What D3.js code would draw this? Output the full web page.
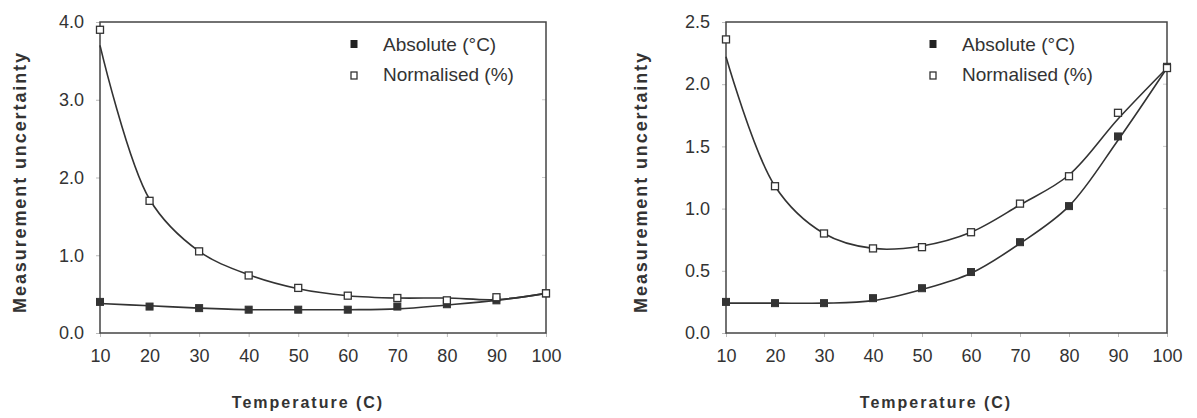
<!DOCTYPE html>
<html><head><meta charset="utf-8">
<script src="https://cdn.jsdelivr.net/npm/d3@7"></script>
<style>body{margin:0;background:#fff}svg{display:block}text{font-family:"Liberation Sans",Arial,sans-serif;fill:#333}</style>
</head><body><svg id="c" width="1197" height="418"></svg>
<script>
const temps = [10,20,30,40,50,60,70,80,90,100];
const xTicks = [10,20,30,40,50,60,70,80,90,100];
// Left chart
const leftAbs = [0.40,0.34,0.32,0.30,0.30,0.30,0.34,0.37,0.42,0.51];
const leftAbsFit = [0.38,0.35,0.32,0.30,0.30,0.30,0.31,0.36,0.42,0.51];
const leftNorm = [3.90,1.70,1.05,0.74,0.58,0.48,0.45,0.42,0.46,0.51];
const leftNormFit = [3.70,1.72,1.05,0.75,0.57,0.48,0.45,0.45,0.43,0.51];
const leftYTicks = [0,1,2,3,4];
// Right chart
const rightAbs = [0.25,0.24,0.24,0.28,0.36,0.49,0.73,1.02,1.58,2.14];
const rightAbsFit = [0.24,0.24,0.24,0.26,0.35,0.48,0.72,1.02,1.55,2.13];
const rightNorm = [2.36,1.18,0.80,0.68,0.69,0.81,1.04,1.26,1.77,2.13];
const rightNormFit = [2.22,1.18,0.80,0.68,0.70,0.81,1.03,1.27,1.72,2.13];
const rightYTicks = [0,0.5,1.0,1.5,2.0,2.5];
const legendLabels = ["Absolute (°C)","Normalised (%)"];

const svg = d3.select("#c");

function panel(cfg){
  const g = svg.append("g");
  const x = d3.scaleLinear().domain([10,100]).range([cfg.x0,cfg.x1]);
  const y = d3.scaleLinear().domain([0,cfg.ymax]).range([333,22]);
  // ticks outside
  const ya = d3.axisLeft(y).tickValues(cfg.yTicks).tickFormat(d3.format(".1f")).tickSize(4).tickPadding(12);
  const gy = g.append("g").attr("transform",`translate(${cfg.x0},0)`).call(ya);
  gy.select(".domain").remove();
  gy.selectAll("line").attr("stroke","#bbb");
  gy.selectAll("text").attr("font-size",18).attr("fill","#333").attr("font-family","Liberation Sans, Arial, sans-serif");
  const xa = d3.axisBottom(x).tickValues(xTicks).tickFormat(d3.format("d")).tickSize(4).tickPadding(12);
  const gx = g.append("g").attr("transform",`translate(0,333)`).call(xa);
  gx.select(".domain").remove();
  gx.selectAll("line").attr("stroke","#bbb");
  gx.selectAll("text").attr("font-size",18).attr("fill","#333").attr("font-family","Liberation Sans, Arial, sans-serif");
  // inner ticks on right edge
  g.selectAll(".rt").data(cfg.yTicks.slice(1,-1)).enter().append("line")
    .attr("x1",cfg.x1-4).attr("x2",cfg.x1).attr("y1",d=>y(d)).attr("y2",d=>y(d)).attr("stroke","#ccc");
  // frame
  g.append("rect").attr("x",cfg.x0).attr("y",22).attr("width",cfg.x1-cfg.x0).attr("height",311)
    .attr("fill","none").attr("stroke","#444").attr("stroke-width",1.5);
  const line = d3.line().x((d,i)=>x(temps[i])).y(d=>y(d)).curve(d3.curveCatmullRom.alpha(0.5));
  [cfg.absFit,cfg.normFit].forEach(arr=>{
    g.append("path").attr("d",line(arr)).attr("fill","none").attr("stroke","#333").attr("stroke-width",1.6);
  });
  // markers
  g.selectAll(".ma").data(cfg.abs).enter().append("rect")
    .attr("x",(d,i)=>x(temps[i])-3.5).attr("y",d=>y(d)-3.5).attr("width",7).attr("height",7)
    .attr("fill","#333").attr("stroke","#333");
  g.selectAll(".mn").data(cfg.norm).enter().append("rect")
    .attr("x",(d,i)=>x(temps[i])-3.5).attr("y",d=>y(d)-3.5).attr("width",7).attr("height",7)
    .attr("fill","#fff").attr("stroke","#333").attr("stroke-width",1.3);
  // legend
  const lx = cfg.legX;
  g.append("rect").attr("x",lx-3.5).attr("y",40).attr("width",7).attr("height",8).attr("fill","#222");
  g.append("rect").attr("x",lx-3).attr("y",72).attr("width",6).attr("height",7).attr("fill","#fff").attr("stroke","#333").attr("stroke-width",1.3);
  legendLabels.forEach((t,i)=>{
    g.append("text").attr("x",lx+29).attr("y",51+i*30).attr("font-size",19).text(t);
  });
  // axis titles
  g.append("text").attr("transform",`translate(${cfg.yTitleX},182) rotate(-90)`).attr("text-anchor","middle")
    .attr("font-size",18).attr("font-weight","bold").attr("letter-spacing","1.9px").text("Measurement uncertainty");
  g.append("text").attr("x",cfg.xTitleX).attr("y",408).attr("text-anchor","middle")
    .attr("font-size",16).attr("font-weight","bold").attr("letter-spacing","2px").text("Temperature (C)");
}

panel({x0:100,x1:546,ymax:4,yTicks:leftYTicks,abs:leftAbs,absFit:leftAbsFit,norm:leftNorm,normFit:leftNormFit,legX:354,yTitleX:26,xTitleX:308});
panel({x0:726,x1:1167,ymax:2.5,yTicks:rightYTicks,abs:rightAbs,absFit:rightAbsFit,norm:rightNorm,normFit:rightNormFit,legX:933,yTitleX:647,xTitleX:936});
</script></body></html>
